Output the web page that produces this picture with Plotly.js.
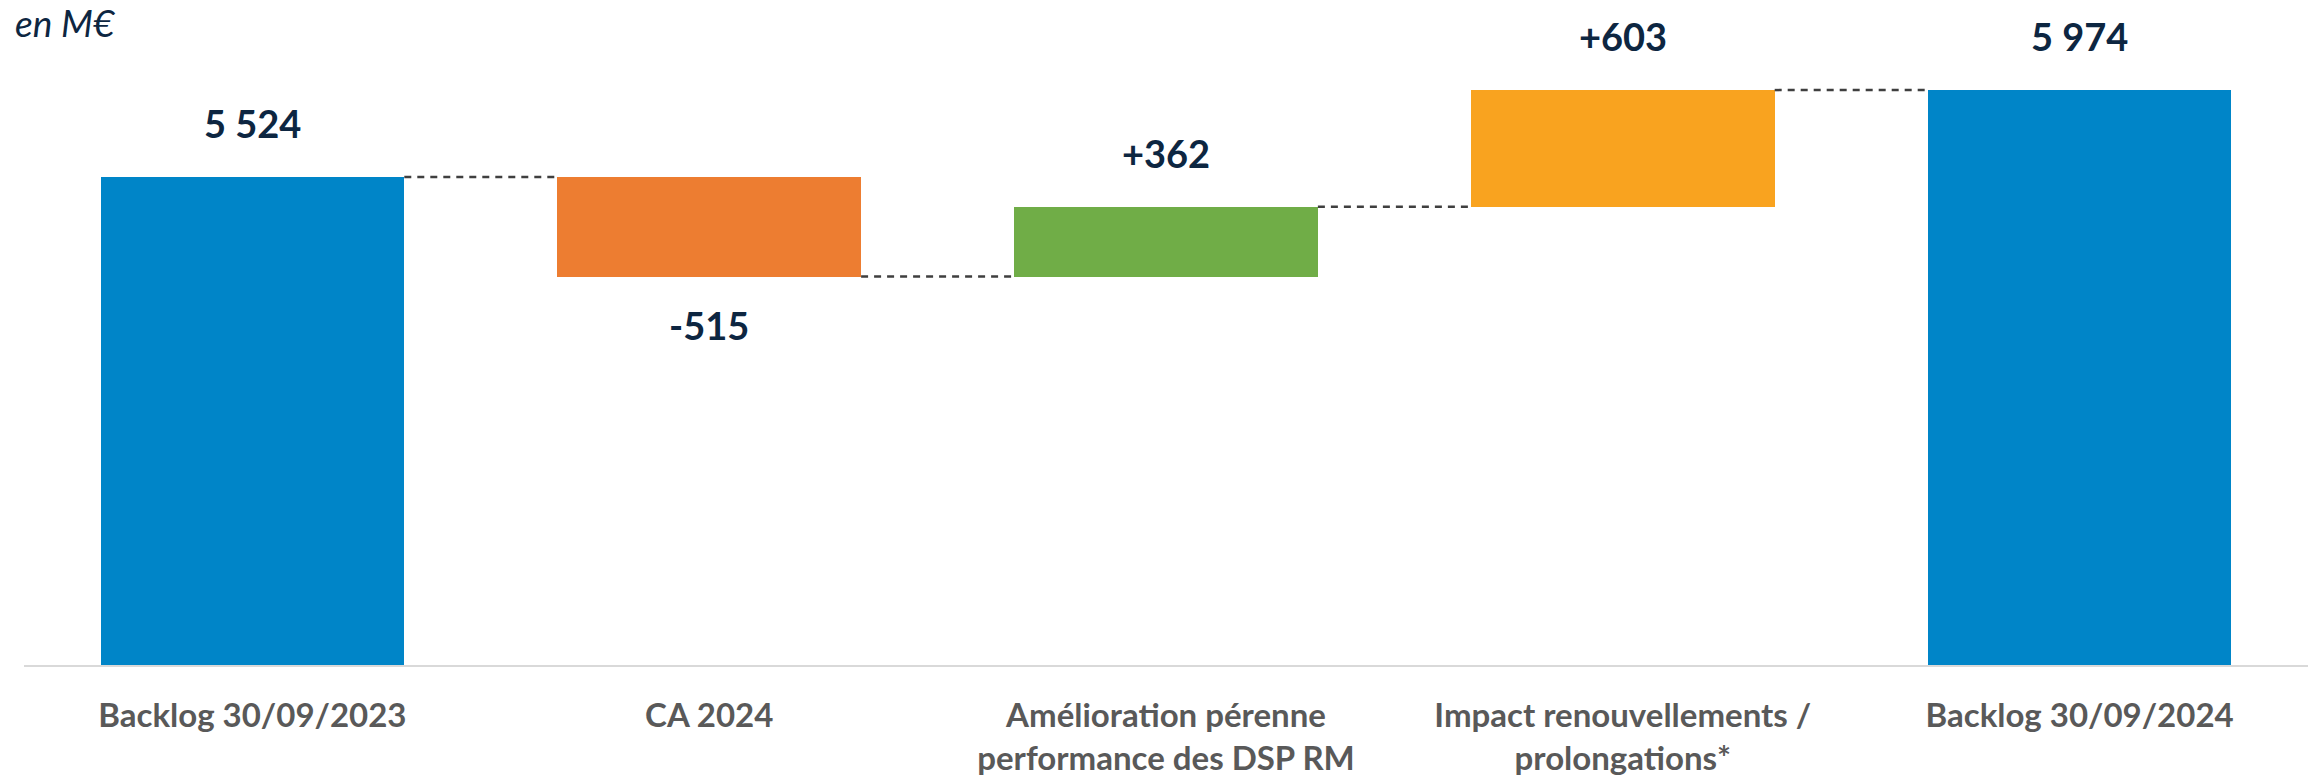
<!DOCTYPE html>
<html><head><meta charset="utf-8">
<script src="https://cdn.plot.ly/plotly-3.0.1.min.js"></script>
<style>html,body{margin:0;padding:0;background:#fff;}#chart{width:2318px;height:779px;}</style>
</head><body><div id="chart"></div>
<script>
const categories = ["Backlog 30/09/2023", "CA 2024", "Amélioration pérenne<br>performance des DSP RM", "Impact renouvellements /<br>prolongations*", "Backlog 30/09/2024"];
const measures = ["absolute", "relative", "relative", "relative", "total"];
const values = [5524, -515, 362, 603, 5974];
const valueLabels = ["5 524", "-515", "+362", "+603", "5 974"];
const barColors = ["#0085C8", "#ED7D31", "#70AD47", "#F9A31F", "#0085C8"];

const xs = categories.map((c, i) => i);
const bases = [], tops = [], bottoms = [];
let running = 0;
for (let i = 0; i < values.length; i++) {
  let b, h;
  if (measures[i] === "absolute" || measures[i] === "total") { b = 0; h = values[i]; running = values[i]; }
  else { b = running; h = values[i]; running += values[i]; }
  bases.push(b);
  tops.push(Math.max(b, b + h)); bottoms.push(Math.min(b, b + h));
}
const barWidth = 0.665;

const traces = [{
  type: "bar", x: xs, y: values, base: bases, width: barWidth,
  marker: {color: barColors, line: {width: 0}}, hoverinfo: "skip", showlegend: false
}];
// connectors between consecutive bars, at the running level
for (let i = 0; i < values.length - 1; i++) {
  const level = (measures[i] === "relative") ? bases[i] + values[i] : values[i];
  traces.push({
    type: "scatter", mode: "lines",
    x: [xs[i] + barWidth / 2, xs[i + 1] - barWidth / 2], y: [level, level],
    line: {color: "#3F3F3F", width: 2.5, dash: "7px,6px"}, hoverinfo: "skip", showlegend: false
  });
}

const annotations = values.map((v, i) => {
  const below = measures[i] === "relative" && v < 0;
  return {
    x: xs[i], y: below ? bottoms[i] : tops[i], xref: "x", yref: "y",
    text: "<b>" + valueLabels[i] + "</b>", showarrow: false,
    yanchor: "middle", yshift: below ? -48 : 54,
    font: {family: "Lato, sans-serif", size: 38, color: "#0D2641"}
  };
});
annotations.push({
  xref: "paper", yref: "paper", x: -0.005, y: 1.0, xanchor: "left", yanchor: "top",
  yshift: 42, text: "<i>en M€</i>", showarrow: false,
  font: {family: "Lato, sans-serif", size: 37, color: "#0D2641"}
});

const layout = {
  width: 2318, height: 779,
  margin: {l: 24, r: 10, t: 40, b: 114},
  paper_bgcolor: "#fff", plot_bgcolor: "#fff",
  bargap: 0,
  xaxis: {
    range: [-0.5, 4.5], tickvals: xs, ticktext: categories.map(c => "<b>" + c + "</b>"),
    showgrid: false, zeroline: false, showline: true, linecolor: "#D9D9D9", linewidth: 2,
    ticks: "", ticklabelstandoff: 20,
    tickfont: {family: "Lato, sans-serif", size: 33, color: "#595959"}
  },
  yaxis: {range: [3000, 6233], visible: false, showgrid: false, zeroline: false},
  annotations: annotations,
  showlegend: false
};
Plotly.newPlot("chart", traces, layout, {displayModeBar: false, staticPlot: true});
</script></body></html>
